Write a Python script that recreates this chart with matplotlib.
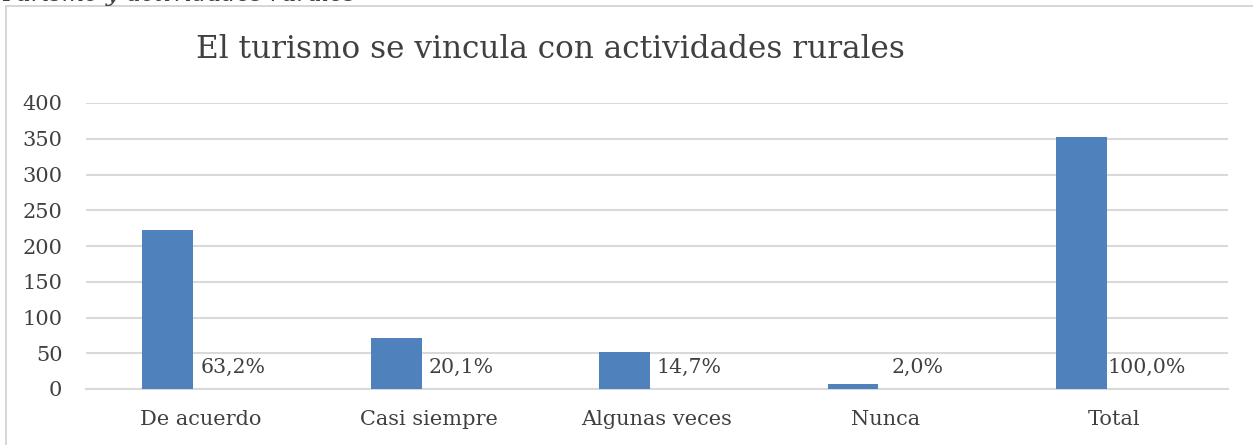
import matplotlib

matplotlib.use("Agg")
import matplotlib.pyplot as plt
from matplotlib.patches import Rectangle
import numpy as np

# ----------------------------------------------------------------------
# Data
# ----------------------------------------------------------------------
CATEGORIES = ["De acuerdo", "Casi siempre", "Algunas veces", "Nunca", "Total"]
COUNTS = [222, 71, 52, 7, 352]
PERCENTS = [63.2, 20.1, 14.7, 2.0, 100.0]
Y_TICKS = [0, 50, 100, 150, 200, 250, 300, 350, 400]

TITLE = "El turismo se vincula con actividades rurales"
CAPTION = "Turismo y actividades rurales"

BAR_COLOR = "#4f81bd"
GRID_COLOR = "#d9d9d9"
TEXT_COLOR = "#404040"

plt.rcParams["font.family"] = ["DejaVu Serif"]

W, H = 1253, 445
fig = plt.figure(figsize=(W / 100, H / 100), dpi=100)
fig.patch.set_facecolor("white")

# outer chart border (extends past right/bottom edges as in the source)
fig.patches.append(
    Rectangle((6 / W, -0.05), 1.1, 1 - 6 / H + 0.05,
              transform=fig.transFigure, fill=False,
              edgecolor="#d0d0d0", linewidth=1.2)
)

# cut-off caption above the chart
fig.text(0.0, 1 + 6 / H, CAPTION, ha="left", va="center",
         fontsize=17, style="italic", color="#404040")

ax = fig.add_axes([86 / W, 1 - 389 / H, (1228 - 86) / W, (389 - 103) / H])

x = np.arange(len(CATEGORIES))
bar_w = 0.223
offset = 0.142
ax.bar(x - offset, COUNTS, width=bar_w, color=BAR_COLOR, zorder=3)

# percent labels sit on the (near-zero) second series, just right of each bar
for xi, pct in zip(x, PERCENTS):
    label = f"{pct:.1f}%".replace(".", ",")
    ax.text(xi + offset, 17, label, ha="center", va="bottom",
            fontsize=14.8, color=TEXT_COLOR, zorder=4)

ax.set_xlim(-0.5, len(CATEGORIES) - 0.5)
ax.set_ylim(0, 400)
ax.set_yticks(Y_TICKS)
ax.set_yticklabels([str(t) for t in Y_TICKS])
ax.set_xticks(x)
ax.set_xticklabels(CATEGORIES)
ax.tick_params(axis="both", length=0, labelsize=15, colors=TEXT_COLOR)
ax.tick_params(axis="x", pad=15)
ax.tick_params(axis="y", pad=17)

for side in ("top", "right", "left"):
    ax.spines[side].set_visible(False)
ax.spines["bottom"].set_color(GRID_COLOR)
ax.spines["bottom"].set_linewidth(1.5)
ax.grid(True, axis="y", color=GRID_COLOR, linewidth=1.5, zorder=0)
ax.set_axisbelow(True)

fig.text(550 / W, 1 - 49 / H, TITLE, ha="center", va="center",
         fontsize=22.4, color=TEXT_COLOR)

fig.savefig("out.png", dpi=100)
